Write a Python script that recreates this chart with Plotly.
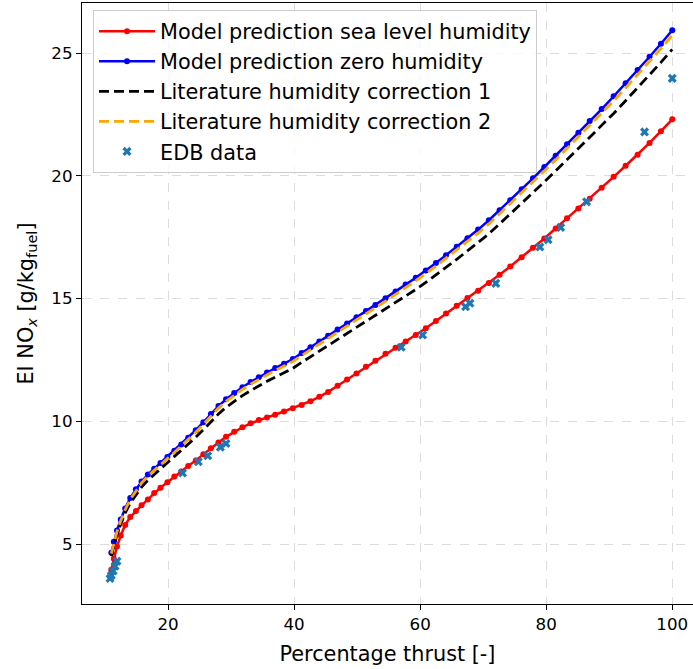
import plotly.graph_objects as go

# Percentage thrust at which the model was evaluated
thrust = [11.0, 11.4, 11.9, 12.5, 13.2, 14.0, 14.9, 15.8, 16.8, 17.8, 18.8, 19.9,
          21.0, 22.1, 23.2, 24.4, 25.6, 26.8, 28.0, 29.2, 30.5, 31.8, 33.1, 34.4,
          35.7, 37.0, 38.4, 39.8, 41.2, 42.6, 44.0, 45.4, 46.9, 48.4, 49.9, 51.4,
          52.9, 54.5, 56.1, 57.7, 59.3, 60.9, 62.5, 64.1, 65.8, 67.5, 69.2, 70.9,
          72.6, 74.3, 76.1, 77.9, 79.7, 81.5, 83.3, 85.1, 86.9, 88.8, 90.7, 92.6,
          94.5, 96.4, 98.2, 100.0]

# EI NOx [g/kg fuel], model at sea level humidity
ei_sea_level = [3.95, 4.40, 4.90, 5.35, 5.78, 6.10, 6.35, 6.58, 6.82, 7.08, 7.30, 7.52,
                7.75, 7.96, 8.18, 8.41, 8.66, 8.90, 9.14, 9.37, 9.58, 9.76, 9.92, 10.05,
                10.16, 10.27, 10.40, 10.53, 10.67, 10.82, 11.00, 11.20, 11.45, 11.70, 11.95, 12.22,
                12.47, 12.75, 13.00, 13.25, 13.52, 13.79, 14.09, 14.39, 14.71, 15.02, 15.32, 15.63,
                15.97, 16.31, 16.68, 17.07, 17.45, 17.86, 18.27, 18.67, 19.07, 19.51, 19.96, 20.41,
                20.86, 21.34, 21.82, 22.30]

# EI NOx, model at zero humidity
ei_zero_hum = [4.65, 5.10, 5.55, 6.00, 6.45, 6.88, 7.23, 7.55, 7.83, 8.07, 8.30, 8.55,
               8.80, 9.06, 9.33, 9.64, 9.96, 10.30, 10.62, 10.90, 11.15, 11.39, 11.60, 11.80,
               11.99, 12.17, 12.35, 12.54, 12.78, 13.02, 13.25, 13.49, 13.74, 13.99, 14.24, 14.49,
               14.74, 15.01, 15.29, 15.57, 15.85, 16.14, 16.45, 16.77, 17.11, 17.46, 17.81, 18.19,
               18.60, 19.01, 19.45, 19.90, 20.36, 20.82, 21.29, 21.76, 22.23, 22.72, 23.24, 23.77,
               24.31, 24.85, 25.38, 25.93]

# Literature humidity correction 1
ei_corr1 = [4.51, 4.95, 5.38, 5.82, 6.26, 6.67, 7.01, 7.32, 7.60, 7.83, 8.05, 8.29,
            8.54, 8.79, 9.05, 9.35, 9.66, 9.99, 10.30, 10.57, 10.82, 11.05, 11.25, 11.45,
            11.63, 11.80, 11.98, 12.16, 12.40, 12.63, 12.85, 13.09, 13.33, 13.57, 13.81, 14.06,
            14.30, 14.56, 14.83, 15.10, 15.37, 15.66, 15.96, 16.27, 16.60, 16.94, 17.28, 17.64,
            18.04, 18.44, 18.87, 19.30, 19.75, 20.20, 20.65, 21.11, 21.56, 22.04, 22.54, 23.06,
            23.58, 24.10, 24.62, 25.15]

# Literature humidity correction 2
ei_corr2 = [4.61, 5.06, 5.51, 5.95, 6.40, 6.82, 7.17, 7.49, 7.77, 8.01, 8.23, 8.48,
            8.73, 8.99, 9.26, 9.56, 9.88, 10.22, 10.54, 10.81, 11.06, 11.30, 11.51, 11.71,
            11.89, 12.07, 12.25, 12.44, 12.68, 12.92, 13.14, 13.38, 13.63, 13.88, 14.13, 14.37,
            14.62, 14.89, 15.17, 15.45, 15.72, 16.01, 16.32, 16.64, 16.97, 17.32, 17.67, 18.04,
            18.45, 18.86, 19.29, 19.74, 20.20, 20.65, 21.12, 21.59, 22.05, 22.54, 23.05, 23.58,
            24.12, 24.65, 25.18, 25.72]

# ICAO emissions databank points
edb_thrust = [10.8, 11.0, 11.3, 11.6, 11.9, 22.3, 24.8, 26.3, 28.3, 29.2,
              57.0, 60.4, 67.2, 67.9, 72.0, 79.0, 80.3, 82.3, 86.4, 95.6, 100.0]
edb_ei = [3.60, 3.72, 3.90, 4.10, 4.30, 7.90, 8.35, 8.60, 8.95, 9.10,
          13.02, 13.52, 14.67, 14.81, 15.62, 17.10, 17.40, 17.90, 18.94, 21.79, 23.97]

FONT = "DejaVu Sans"
TICK_SIZE = 16.7
LABEL_SIZE = 20.8

fig = go.Figure()
fig.add_trace(go.Scatter(
    x=thrust, y=ei_sea_level, mode="lines+markers",
    name="Model prediction sea level humidity", legendgroup="a",
    line=dict(color="red", width=2.5), marker=dict(color="red", size=6)))
fig.add_trace(go.Scatter(
    x=thrust, y=ei_zero_hum, mode="lines+markers",
    name="Model prediction zero humidity", legendgroup="b",
    line=dict(color="blue", width=2.5), marker=dict(color="blue", size=6)))
fig.add_trace(go.Scatter(
    x=thrust, y=ei_corr1, mode="lines",
    name="Literature humidity correction 1", legendgroup="c",
    line=dict(color="black", width=2.8, dash="10px,5px")))
fig.add_trace(go.Scatter(
    x=thrust, y=ei_corr2, mode="lines",
    name="Literature humidity correction 2", legendgroup="d",
    line=dict(color="orange", width=2.8, dash="10px,5px")))
fig.add_trace(go.Scatter(
    x=edb_thrust, y=edb_ei, mode="markers", name="EDB data", legendgroup="e",
    marker=dict(symbol="x", color="#1f77b4", size=8, line=dict(width=0))))

fig.update_layout(
    width=693, height=669,
    margin=dict(l=82, r=0, t=3, b=65),
    paper_bgcolor="white", plot_bgcolor="white",
    font=dict(family=FONT, size=TICK_SIZE, color="black"),
    showlegend=True,
    legend=dict(
        x=0.018, y=0.988, xanchor="left", yanchor="top",
        bgcolor="rgba(255,255,255,0.8)", bordercolor="#cccccc", borderwidth=1,
        font=dict(family=FONT, size=LABEL_SIZE, color="black"),
        tracegroupgap=0, itemwidth=56,
    ),
    xaxis=dict(
        range=[6.35, 103.29], tickvals=[20, 40, 60, 80, 100],
        showgrid=True, gridcolor="#dcdcdc", griddash="dash", gridwidth=1.2,
        zeroline=False, showline=True, linecolor="black", linewidth=1.2,
        mirror=True, ticks="outside", ticklen=5, tickcolor="black",
        tickfont=dict(family=FONT, size=TICK_SIZE),
        title=dict(text="Percentage thrust [-]", font=dict(family=FONT, size=LABEL_SIZE), standoff=13),
    ),
    yaxis=dict(
        range=[2.56, 27.04], tickvals=[5, 10, 15, 20, 25],
        showgrid=True, gridcolor="#dcdcdc", griddash="dash", gridwidth=1.2,
        zeroline=False, showline=True, linecolor="black", linewidth=1.2,
        mirror=False, ticks="outside", ticklen=5, tickcolor="black",
        tickfont=dict(family=FONT, size=TICK_SIZE),
        title=dict(text="EI NO<sub><i>x</i></sub> [g/kg<sub>fuel</sub>]",
                   font=dict(family=FONT, size=LABEL_SIZE), standoff=12),
    ),
)

fig.write_html("out.html")
